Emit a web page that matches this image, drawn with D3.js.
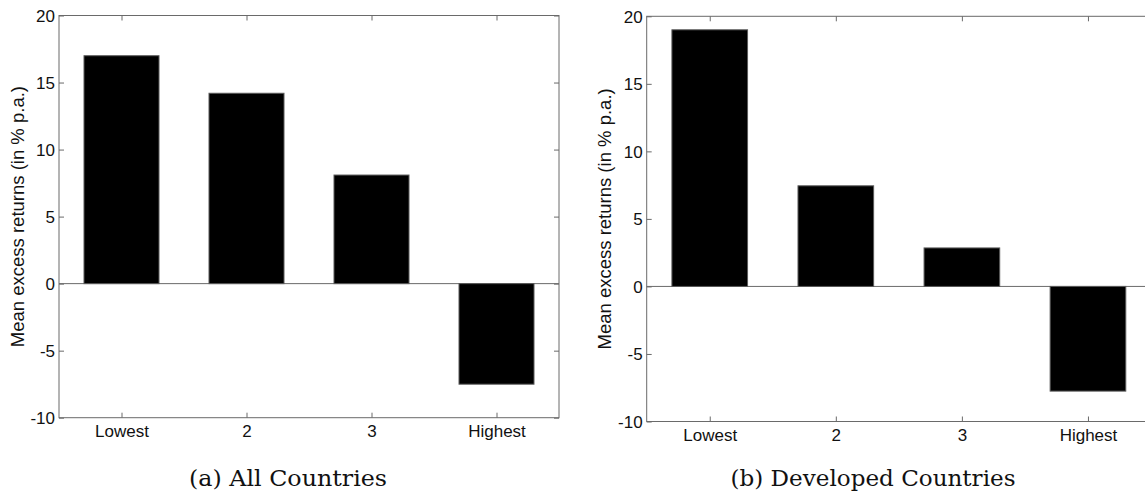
<!DOCTYPE html>
<html>
<head>
<meta charset="utf-8">
<script src="https://cdn.jsdelivr.net/npm/d3@7"></script>
<style>
  html, body { margin: 0; padding: 0; background: #fff; }
  svg { display: block; }
  .tick text { font-family: "Liberation Sans", Arial, sans-serif; font-size: 17px; fill: #111; }
  .ylab { font-family: "Liberation Sans", Arial, sans-serif; font-size: 18.5px; fill: #111; }
  .caption { font-family: "DejaVu Serif", serif; font-size: 22px; fill: #111; }
</style>
</head>
<body>
<svg id="chart" width="1145" height="498"></svg>
<script>
// Mean excess returns of portfolios sorted from lowest to highest
const categories = ["Lowest", "2", "3", "Highest"];
const allCountries = [17.0, 14.2, 8.1, -7.5];
const developedCountries = [19.0, 7.45, 2.85, -7.75];
const yTicks = [-10, -5, 0, 5, 10, 15, 20];
const yLabel = "Mean excess returns (in % p.a.)";
const captions = ["(a)  All Countries", "(b)  Developed Countries"];

const svg = d3.select("#chart");
const axisColor = "#6a6a6a";

const panels = [
  { values: allCountries, caption: captions[0],
    left: 59, right: 559, top: 15.5, bottom: 417.7, labelX: 18, captionX: 288, captionW: 198 },
  { values: developedCountries, caption: captions[1],
    left: 646.7, right: 1151, top: 16.3, bottom: 421.5, labelX: 605, captionX: 873, captionW: 285 }
];

panels.forEach(p => {
  const g = svg.append("g");
  const x = d3.scaleLinear().domain([0.5, categories.length + 0.5]).range([p.left, p.right]);
  const y = d3.scaleLinear().domain([-10, 20]).range([p.bottom, p.top]);
  const barW = (x(2) - x(1)) * 0.6;

  // zero baseline
  g.append("line")
    .attr("x1", p.left).attr("x2", p.right)
    .attr("y1", y(0)).attr("y2", y(0))
    .attr("stroke", axisColor).attr("stroke-width", 1);

  // bars
  g.selectAll("rect.bar")
    .data(p.values)
    .join("rect")
    .attr("class", "bar")
    .attr("x", (d, i) => x(i + 1) - barW / 2)
    .attr("width", barW)
    .attr("y", d => y(Math.max(0, d)))
    .attr("height", d => Math.abs(y(d) - y(0)))
    .attr("fill", "#000")
    .attr("stroke", "#5a5a5a")
    .attr("stroke-width", 1);

  // box
  g.append("rect")
    .attr("x", p.left).attr("y", p.top)
    .attr("width", p.right - p.left).attr("height", p.bottom - p.top)
    .attr("fill", "none").attr("stroke", axisColor).attr("stroke-width", 1);

  const idx = d3.range(1, categories.length + 1);

  // left axis with labels, ticks pointing inward
  const yl = g.append("g").attr("transform", `translate(${p.left},0)`)
    .call(d3.axisLeft(y).tickValues(yTicks).tickFormat(d => String(d))
      .tickSizeInner(-5).tickSizeOuter(0).tickPadding(4));
  // right axis ticks
  const yr = g.append("g").attr("transform", `translate(${p.right},0)`)
    .call(d3.axisRight(y).tickValues(yTicks).tickFormat("")
      .tickSizeInner(-5).tickSizeOuter(0));
  // bottom axis with category labels
  const xb = g.append("g").attr("transform", `translate(0,${p.bottom})`)
    .call(d3.axisBottom(x).tickValues(idx).tickFormat(i => categories[i - 1])
      .tickSizeInner(-5).tickSizeOuter(0).tickPadding(7));
  // top axis ticks
  const xt = g.append("g").attr("transform", `translate(0,${p.top})`)
    .call(d3.axisTop(x).tickValues(idx).tickFormat("")
      .tickSizeInner(-5).tickSizeOuter(0));

  [yl, yr, xb, xt].forEach(a => {
    a.select(".domain").remove();
    a.selectAll(".tick line").attr("stroke", axisColor);
    a.attr("font-family", null).attr("font-size", null);
  });
  yl.selectAll(".tick text").attr("dy", "0.35em");

  // y axis title
  g.append("text")
    .attr("class", "ylab")
    .attr("transform", `translate(${p.labelX},${(p.top + p.bottom) / 2}) rotate(-90)`)
    .attr("text-anchor", "middle")
    .attr("dy", "0.35em")
    .text(yLabel);

  // caption under the panel
  g.append("text")
    .attr("class", "caption")
    .attr("x", p.captionX - p.captionW / 2)
    .attr("y", 486)
    .attr("textLength", p.captionW)
    .attr("lengthAdjust", "spacingAndGlyphs")
    .text(p.caption);
});
</script>
</body>
</html>
